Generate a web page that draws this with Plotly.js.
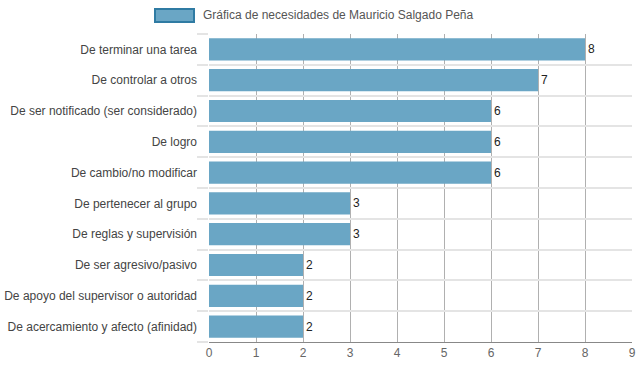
<!DOCTYPE html>
<html><head><meta charset="utf-8">
<script src="https://cdn.plot.ly/plotly-3.0.1.min.js"></script>
<style>body{margin:0;padding:0;background:#fff}#chart{width:639px;height:372px}</style>
</head><body><div id="chart"></div>
<script>
const categories = [
  "De terminar una tarea",
  "De controlar a otros",
  "De ser notificado (ser considerado)",
  "De logro",
  "De cambio/no modificar",
  "De pertenecer al grupo",
  "De reglas y supervisión",
  "De ser agresivo/pasivo",
  "De apoyo del supervisor o autoridad",
  "De acercamiento y afecto (afinidad)"
];
const values = [8, 7, 6, 6, 6, 3, 3, 2, 2, 2];
const seriesName = "Gráfica de necesidades de Mauricio Salgado Peña";
const xTicks = [0,1,2,3,4,5,6,7,8,9];

const n = categories.length;
const boundaries = Array.from({length: n + 1}, (_, i) => i - 0.5);

const trace = {
  type: 'bar', orientation: 'h',
  x: values, y: categories,
  name: seriesName,
  marker: {color: '#6aa6c5', line: {width: 0}},
  text: values.map(String), textposition: 'outside',
  textfont: {family: 'Liberation Sans, Arial, sans-serif', size: 12, color: '#222'},
  cliponaxis: false,
  showlegend: false
};
const helper = {
  type: 'scatter', mode: 'markers',
  x: values, y: categories.map((_, i) => i),
  yaxis: 'y2', marker: {opacity: 0, size: 1},
  hoverinfo: 'skip', showlegend: false
};
const layout = {
  width: 639, height: 372,
  margin: {l: 209, r: 7, t: 34, b: 30},
  paper_bgcolor: '#fff', plot_bgcolor: '#fff',
  font: {family: 'Liberation Sans, Arial, sans-serif', size: 12, color: '#555'},
  bargap: 0.28,
  xaxis: {
    range: [0, 9], tickvals: xTicks, ticktext: xTicks.map(String),
    showgrid: true, gridcolor: '#b0b0b0', gridwidth: 1,
    zeroline: false, showline: true, linecolor: '#888', linewidth: 1,
    ticks: '', tickfont: {size: 12, color: '#666'}
  },
  yaxis: {
    type: 'category', autorange: 'reversed',
    ticks: '', ticklabelstandoff: 11,
    showgrid: false, showline: false, zeroline: false,
    tickfont: {size: 12, color: '#444'}
  },
  yaxis2: {
    overlaying: 'y', side: 'left', range: [n - 0.5, -0.5],
    tickvals: boundaries, showticklabels: false,
    ticks: 'outside', ticklen: 11, tickcolor: '#e4e4e4', tickwidth: 2,
    showgrid: true, gridcolor: '#e4e4e4', gridwidth: 2,
    showline: false, zeroline: false, layer: 'below traces'
  },
  shapes: [{
    type: 'rect', xref: 'paper', yref: 'paper',
    x0: (155-209)/423, x1: (194-209)/423, y0: 1 + (34-22)/308, y1: 1 + (34-9)/308,
    fillcolor: '#6aa6c5', line: {color: '#2f7ba3', width: 2}
  }],
  annotations: [{
    xref: 'paper', yref: 'paper', x: (201-209)/423, y: 1 + (34-15.5)/308,
    xanchor: 'left', yanchor: 'middle', showarrow: false,
    text: seriesName, font: {size: 12, color: '#555'}
  }]
};
Plotly.newPlot('chart', [trace, helper], layout, {displayModeBar: false, staticPlot: true});
</script></body></html>
